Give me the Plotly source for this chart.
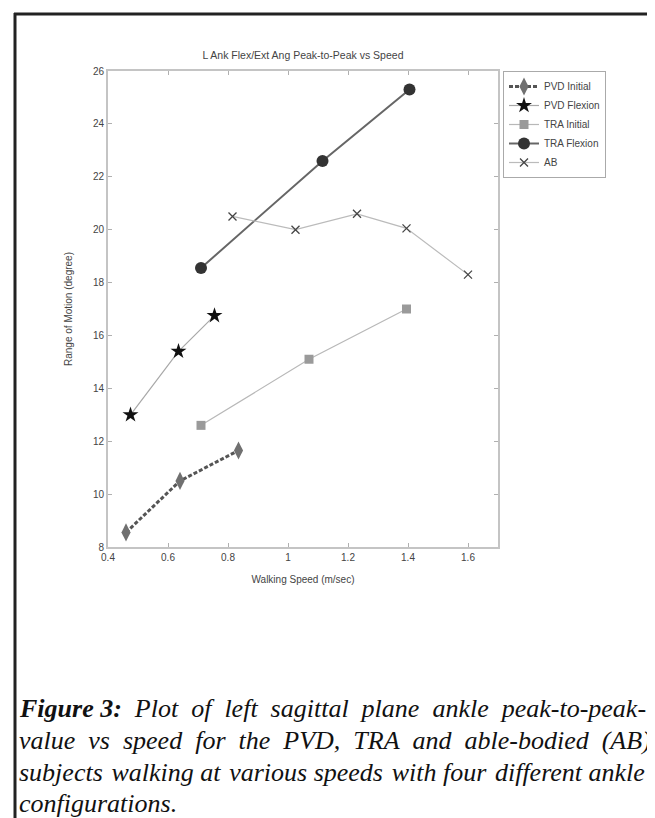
import plotly.graph_objects as go

# ---- data ----
pvd_init_x = [0.46, 0.64, 0.835]
pvd_init_y = [8.55, 10.5, 11.65]
pvd_flex_x = [0.475, 0.635, 0.755]
pvd_flex_y = [13.0, 15.4, 16.75]
tra_init_x = [0.71, 1.07, 1.395]
tra_init_y = [12.6, 15.1, 17.0]
tra_flex_x = [0.71, 1.115, 1.405]
tra_flex_y = [18.55, 22.6, 25.3]
ab_x = [0.815, 1.025, 1.23, 1.395, 1.6]
ab_y = [20.5, 20.0, 20.6, 20.05, 18.3]

x_tickvals = [0.4, 0.6, 0.8, 1.0, 1.2, 1.4, 1.6]
x_ticktext = ["0.4", "0.6", "0.8", "1", "1.2", "1.4", "1.6"]
y_tickvals = [8, 10, 12, 14, 16, 18, 20, 22, 24, 26]

title_text = "L Ank Flex/Ext Ang Peak-to-Peak vs Speed"
x_title = "Walking Speed (m/sec)"
y_title = "Range of Motion (degree)"
NB = "\u00a0"
HS = "\u200a"
caption_lines = [
    "<b>Figure 3:</b>" + NB + " Plot" + NB + " of" + NB + " left" + NB + " sagittal" + NB + " plane" + NB + " ankle" + NB + " peak-to-peak-",
    "value" + NB + " vs" + NB + " speed" + NB + " for" + NB + " the" + NB + " PVD," + NB + " TRA" + NB + " and" + NB + " able-bodied" + NB + " (AB)",
    "subjects " + HS + "walking at " + HS + "various speeds " + HS + "with four " + HS + "different ankle",
    "configurations.",
]

# ---- layout geometry (pixels) ----
W, H = 655, 818
L, R, T, B = 100, 490, 63, 539


def pxx(px):
    return (px - L) / (R - L)


def pyy(py):
    return (B - py) / (B - T)


SANS = "Liberation Sans, Arial, sans-serif"
SERIF = "Liberation Serif, Times New Roman, serif"

fig = go.Figure()

fig.add_trace(go.Scatter(
    x=pvd_init_x, y=pvd_init_y, name="PVD Initial", mode="lines+markers",
    line=dict(color="#555555", width=3, dash="4px,2px"),
    marker=dict(symbol="diamond-tall", size=13, color="#707070"),
))
fig.add_trace(go.Scatter(
    x=pvd_flex_x, y=pvd_flex_y, name="PVD Flexion", mode="lines+markers",
    line=dict(color="#a8a8a8", width=1.2),
    marker=dict(symbol="star", size=12, color="#111111"),
))
fig.add_trace(go.Scatter(
    x=tra_init_x, y=tra_init_y, name="TRA Initial", mode="lines+markers",
    line=dict(color="#b8b8b8", width=1.2),
    marker=dict(symbol="square", size=9, color="#9a9a9a"),
))
fig.add_trace(go.Scatter(
    x=tra_flex_x, y=tra_flex_y, name="TRA Flexion", mode="lines+markers",
    line=dict(color="#666666", width=2),
    marker=dict(symbol="circle", size=12, color="#333333"),
))
fig.add_trace(go.Scatter(
    x=ab_x, y=ab_y, name="AB", mode="lines+markers",
    line=dict(color="#bbbbbb", width=1.2),
    marker=dict(symbol="x-thin", size=8, color="#444444",
                line=dict(color="#444444", width=1.3)),
))

axis_common = dict(
    showline=True, linecolor="#c4c4c4", linewidth=2, mirror="ticks",
    ticks="inside", ticklen=4, tickcolor="#b0b0b0", tickwidth=1,
    showgrid=False, zeroline=False,
    tickfont=dict(family=SANS, size=10, color="#444444"),
)

fig.update_xaxes(
    range=[0.4, 1.7], tickvals=x_tickvals, ticktext=x_ticktext,
    title=dict(text=x_title, font=dict(family=SANS, size=10, color="#444444"), standoff=14),
    **axis_common,
)
fig.update_yaxes(
    range=[8, 26], tickvals=y_tickvals,
    title=dict(text=y_title, font=dict(family=SANS, size=10, color="#444444"), standoff=18),
    **axis_common,
)

annotations = []
cap_y = [700, 732, 764, 796]
for line, yy in zip(caption_lines, cap_y):
    annotations.append(dict(
        xref="paper", yref="paper", x=pxx(9), y=pyy(yy),
        xanchor="left", yanchor="middle", showarrow=False, align="left",
        text="<i>" + line + "</i>",
        font=dict(family=SERIF, size=26, color="#111111"),
    ))

shapes = [
    dict(type="line", xref="paper", yref="paper",
         x0=pxx(6), x1=pxx(655), y0=pyy(6), y1=pyy(6),
         line=dict(color="#222222", width=3)),
    dict(type="line", xref="paper", yref="paper",
         x0=pxx(7), x1=pxx(7), y0=pyy(5), y1=pyy(818),
         line=dict(color="#222222", width=3)),
]

fig.update_layout(
    width=W, height=H,
    margin=dict(l=L, r=W - R, t=T, b=H - B, autoexpand=False),
    paper_bgcolor="white", plot_bgcolor="white",
    title=dict(text=title_text, x=(L + R) / 2 / W, xanchor="center",
               xref="container", yref="container", y=1 - 47 / H, yanchor="middle",
               font=dict(family=SANS, size=10.5, color="#444444")),
    showlegend=True,
    legend=dict(x=pxx(495), y=1, xanchor="left", yanchor="top",
                bgcolor="white", bordercolor="#aaaaaa", borderwidth=1,
                font=dict(family=SANS, size=10, color="#444444"),
                itemwidth=30, tracegroupgap=0),
    annotations=annotations,
    shapes=shapes,
)

fig.write_html("out.html")
